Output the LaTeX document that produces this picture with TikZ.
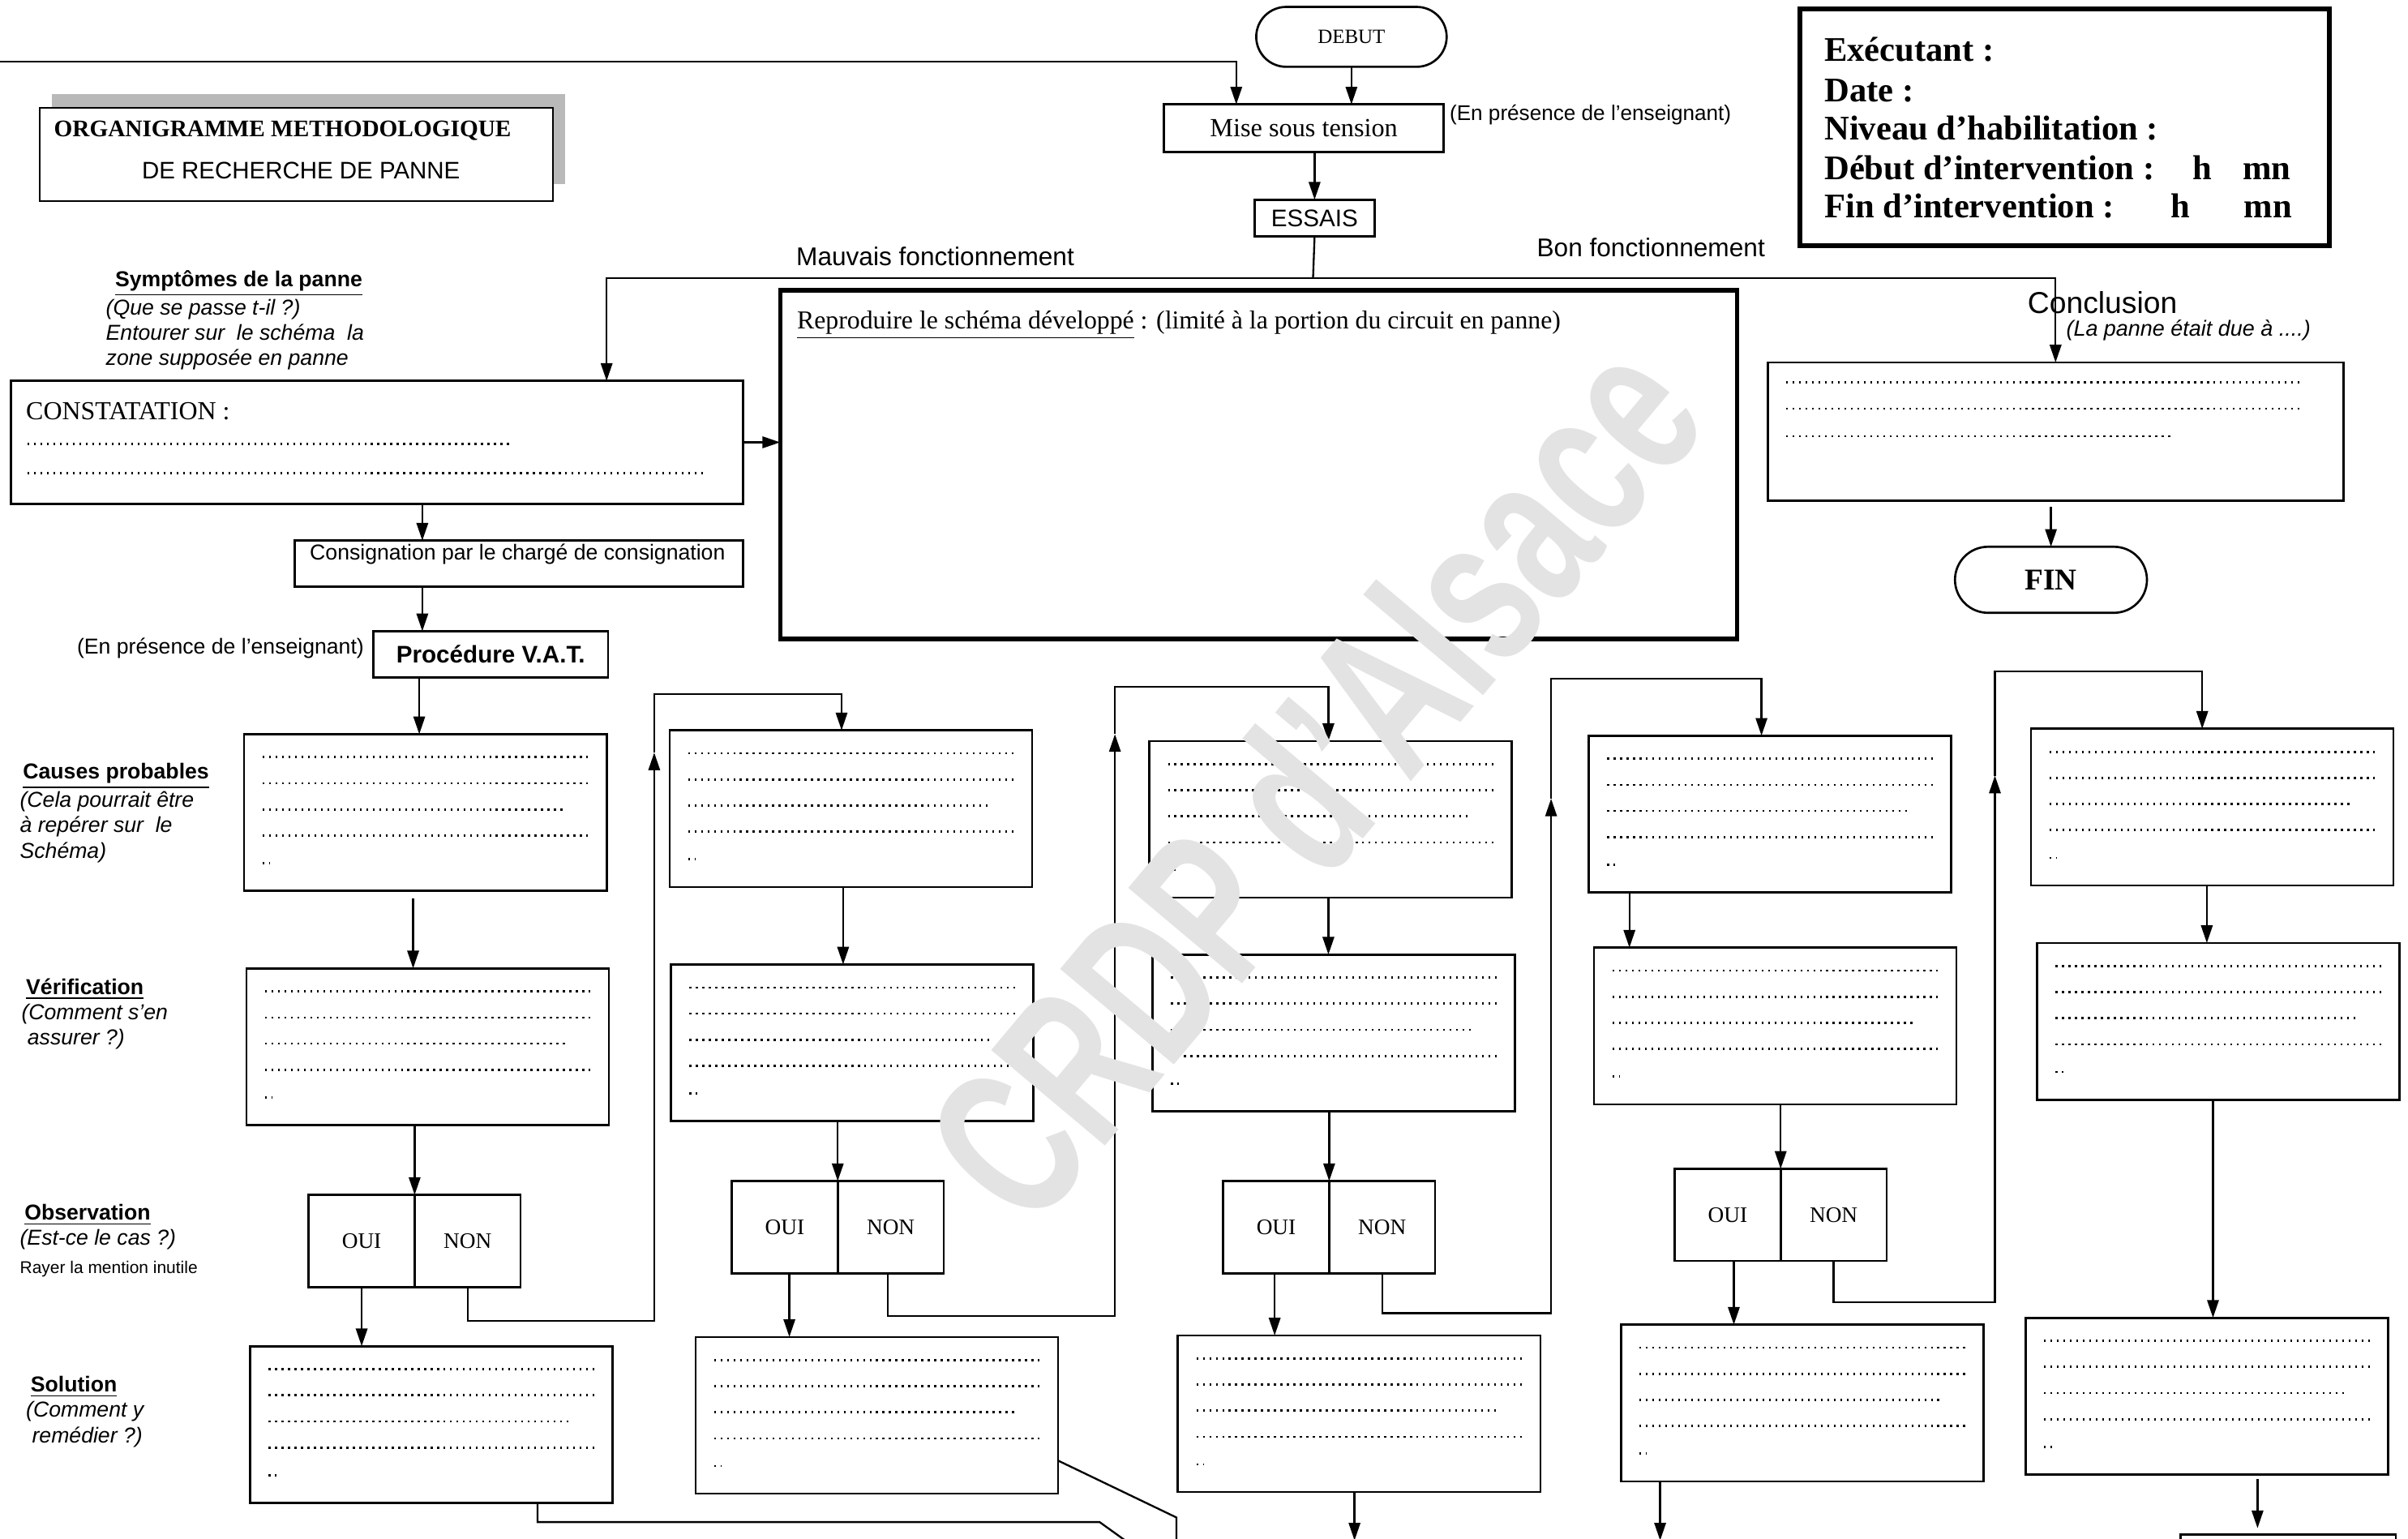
\documentclass[tikz,border=0pt]{standalone}
\usepackage{fontspec}
\setmainfont{Liberation Serif}
\setsansfont{Liberation Sans}
\usetikzlibrary{shapes.misc}
\usetikzlibrary{arrows.meta}
\usetikzlibrary{positioning}
\usetikzlibrary{calc}

\begin{document}
\begin{tikzpicture}[x=0.2mm,y=-0.2mm,
>={Triangle[length=2.3mm,width=1.5mm]},
every node/.style={inner sep=0pt,outer sep=0pt},
box/.style={draw,line width=0.8pt,minimum width=47.2mm,minimum height=20.4mm},
yn/.style={draw,line width=0.8pt,minimum width=13.8mm,minimum height=12mm,font=\fontsize{8.2}{10}\selectfont},
link/.style={line width=0.7pt},
leader/.style={line width=0.8pt,dash pattern=on 0.7pt off 1.7pt},
sf/.style={font=\sffamily\fontsize{#1}{#1}\selectfont},
side/.style={align=left,anchor=north west,font=\sffamily\fontsize{8}{9.4}\selectfont},
infotxt/.style={anchor=base west,font=\bfseries\fontsize{12.8}{15}\selectfont}]
\path[use as bounding box,fill=white] (0,0) rectangle (1568,1002);

\node[draw,rounded rectangle,line width=0.8pt,minimum width=24.8mm,minimum height=7.8mm,font=\fontsize{7.5}{9}\selectfont] (debut) at (880,24) {DEBUT};
\node[draw,line width=0.8pt,minimum width=36.4mm,minimum height=6.2mm,font=\fontsize{9.7}{11}\selectfont] (mise) at (849,83.5) {Mise sous tension};
\node[sf=7.85,right=0.8mm of mise,yshift=1.7mm] (pres1) {(En présence de l'enseignant)};
\node[draw,line width=0.8pt,minimum width=15.6mm,minimum height=4.8mm,sf=8.9] (essais) at (856,142) {ESSAIS};
\coordinate (split) at (855,181);
\coordinate (ret) at (0,40);
\node[sf=9.5] (mauvais) at (609,167) {Mauvais fonctionnement};
\node[sf=9.5] (bon) at (1075,161) {Bon fonctionnement};

\node[fill=gray!55,minimum width=66.8mm,minimum height=11.8mm] (titleshadow) at (201,90.5) {};
\node[draw,fill=white,line width=0.6pt,minimum width=66.8mm,minimum height=12.2mm] (title) at (193,100.5) {};
\node[font=\bfseries\fontsize{8.8}{10}\selectfont] (title1) at (184,85) {ORGANIGRAMME METHODOLOGIQUE};
\node[sf=8.85] (title2) at (196,111) {DE RECHERCHE DE PANNE};

\node[draw,line width=1.8pt,minimum width=69mm,minimum height=30.8mm] (info) at (1344.5,83) {};
\node[infotxt] (exec) at (1188,40) {Exécutant :};
\node[infotxt] (date) at (1188,66) {Date :};
\node[infotxt] (niv) at (1188,91) {Niveau d’habilitation :};
\node[infotxt] (deb) at (1188,117) {Début d’intervention :\hspace{5mm}h\hspace{4mm}mn};
\node[infotxt] (fini) at (1188,142) {Fin d’intervention :\hspace{7.4mm}h\hspace{7mm}mn};

\node[side] (sympt) at (69,176) {\hspace*{1.2mm}\underline{\textbf{Symptômes de la panne}}\\\textit{(Que se passe t-il ?)}\\\textit{Entourer sur\ \ le schéma\ \ la}\\\textit{zone supposée en panne}};
\node[draw,line width=0.8pt,minimum width=95.4mm,minimum height=16mm] (constat) at (245.5,288) {};
\node[anchor=base west,font=\fontsize{9.6}{11}\selectfont] (constxt) at (17,273) {CONSTATATION :};
\draw[leader] (18,289) -- (332,289);
\draw[leader] (18,308) -- (458,308);

\node[draw,line width=1.6pt,minimum width=124.6mm,minimum height=45.4mm] (reprod) at (819.5,302.5) {};
\node[anchor=base west,font=\fontsize{9.55}{11}\selectfont] (reprotxt) at (519,214) {\underline{Reproduire le schéma développé} : (limité à la portion du circuit en panne)};

\node[sf=11.2] (conclu) at (1369,197) {Conclusion};
\node[font=\sffamily\itshape\fontsize{8.1}{9}\selectfont] (dueto) at (1425,215) {(La panne était due à ....)};
\node[draw,line width=0.8pt,minimum width=75mm,minimum height=18mm] (concl) at (1338.5,281) {};
\draw[leader] (1163,249) -- (1500,249);
\draw[leader] (1163,266) -- (1500,266);
\draw[leader] (1163,284) -- (1415,284);
\node[draw,rounded rectangle,line width=0.8pt,minimum width=25mm,minimum height=8.6mm,font=\bfseries\fontsize{11.2}{13}\selectfont] (fin) at (1335.5,377.5) {FIN};

\node[draw,line width=0.8pt,minimum width=58.4mm,minimum height=6mm] (consig) at (338,367) {};
\node[sf=8] (consigtxt) at (337,361) {Consignation par le chargé de consignation};
\node[draw,line width=0.8pt,minimum width=30.6mm,minimum height=6mm,font=\sffamily\bfseries\fontsize{8.9}{10}\selectfont] (vat) at (319.5,426) {Procédure V.A.T.};
\node[sf=8,left=1.2mm of vat,yshift=0.8mm] (pres2) {(En présence de l'enseignant)};

\node[side] (causes) at (13,497) {\hspace*{0.4mm}\underline{\textbf{Causes probables}}\\\textit{(Cela pourrait être}\\\textit{à repérer sur\ \ le}\\\textit{Schéma)}};
\node[side] (verif) at (14,637) {\hspace*{0.6mm}\underline{\textbf{Vérification}}\\\textit{(Comment s'en}\\\textit{\ assurer ?)}};
\node[side] (observ) at (13,784) {\hspace*{0.6mm}\underline{\textbf{Observation}}\\\textit{(Est-ce le cas ?)}\\[0.4mm]{\fontsize{6.3}{7.5}\selectfont Rayer la mention inutile}};
\node[side] (solut) at (17,896) {\hspace*{0.6mm}\underline{\textbf{Solution}}\\\textit{(Comment y}\\\textit{\ remédier ?)}};

\node[box] (c1) at (277,529) {};
\node[box] (v1) at (278.5,681.5) {};
\node[yn] (o1) at (235.5,808) {OUI};
\node[yn,right=0pt of o1] (n1) {NON};
\node[box] (s1) at (281,927.5) {};
\node[box] (c2) at (554,526.5) {};
\node[box] (v2) at (555,679) {};
\node[yn] (o2) at (511,799) {OUI};
\node[yn,right=0pt of o2] (n2) {NON};
\node[box] (s2) at (571,921.5) {};
\node[box] (c3) at (866.5,533.5) {};
\node[box] (v3) at (868.5,672.5) {};
\node[yn] (o3) at (831,799) {OUI};
\node[yn,right=0pt of o3] (n3) {NON};
\node[box] (s3) at (885,920.5) {};
\node[box] (c4) at (1152.5,530) {};
\node[box] (v4) at (1156,668) {};
\node[yn] (o4) at (1125,791) {OUI};
\node[yn,right=0pt of o4] (n4) {NON};
\node[box] (s4) at (1173.5,913.5) {};
\node[box] (c5) at (1440.5,525.5) {};
\node[box] (v5) at (1444.5,665) {};
\node[box] (s5) at (1437,909) {};
\node[draw,line width=0.8pt,minimum width=28mm,minimum height=8mm] (nxt) at (1490,1019) {};

\foreach \b in {c1,v1,s1,c2,v2,s2,c3,v3,s3,c4,v4,s4,c5,v5,s5} {
  \foreach \r/\e in {15/12,32/12,49/26,66/12}
    \draw[leader] ($(\b.north west)+(12,\r)$) -- ($(\b.north east)+(-\e,\r)$);
  \draw[leader] ($(\b.north west)+(12,84)$) -- +(5,0);
}

\draw[link,->] (ret) -| (mise.north -| 805,0);
\draw[link,->] (debut.south) -- (debut.south |- mise.north);
\draw[link,->] (mise.south -| essais.north) -- (essais.north);
\draw[link] (essais.south) -- (split);
\draw[link,->] (split) -| (constat.north -| 395,0);
\draw[link,->] (split) -| (concl.north);
\draw[link,->] (constat.east) -- (constat.east -| reprod.west);
\draw[link,->] (constat.south -| 275,0) -- (consig.north -| 275,0);
\draw[link,->] (consig.south -| 275,0) -- (vat.north -| 275,0);
\draw[link,->] (vat.south -| 273,0) -- (c1.north -| 273,0);
\draw[link,->,shorten <=0.8mm] (concl.south -| fin.north) -- (fin.north);

\coordinate (b1) at (426,860);
\coordinate (u1) at (426,490);
\coordinate (t1) at (426,452);
\coordinate (k1) at (716,991);
\coordinate (e1) at (748,1014);
\draw[link,->,shorten <=1mm] (c1.south -| 269,0) -- (v1.north -| 269,0);
\draw[link,->] (v1.south -| o1.north east) -- (o1.north east);
\draw[link,->] (o1.south) -- (o1.south |- s1.north);
\draw[link,->] (n1.south) |- (b1) -- (u1);
\draw[link,->] (u1) -- (t1) -| (c2.north -| 548,0);
\draw[link,->] (s1.south -| 350,0) |- (k1) -- (e1);

\coordinate (b2) at (726,857);
\coordinate (u2) at (726,478);
\coordinate (t2) at (726,447);
\coordinate (k2) at (766,988);
\coordinate (e2) at (766,1014);
\draw[link,->] (c2.south -| 549,0) -- (v2.north -| 549,0);
\draw[link,->] (v2.south -| o2.north east) -- (o2.north east);
\draw[link,->] (o2.south -| 514,0) -- (s2.north -| 514,0);
\draw[link,->] (n2.south -| 578,0) |- (b2) -- (u2);
\draw[link,->] (u2) -- (t2) -| (c3.north -| 865,0);
\draw[link,->] (s2.east |- 0,951) -- (k2) -- (e2);

\coordinate (b3) at (1010,855);
\coordinate (u3) at (1010,520);
\coordinate (t3) at (1010,442);
\coordinate (e3) at (882,1003);
\draw[link,->] (c3.south -| 865,0) -- (v3.north -| 865,0);
\draw[link,->] (v3.south -| o3.north east) -- (o3.north east);
\draw[link,->] (o3.south -| 830,0) -- (s3.north -| 830,0);
\draw[link,->] (n3.south) |- (b3) -- (u3);
\draw[link,->] (u3) -- (t3) -| (c4.north -| 1147,0);
\draw[link,->] (s3.south -| 882,0) -- (e3);

\coordinate (b4) at (1299,848);
\coordinate (u4) at (1299,505);
\coordinate (t4) at (1299,437);
\coordinate (e4) at (1081,1003);
\draw[link,->] (c4.south -| 1061,0) -- (v4.north -| 1061,0);
\draw[link,->] (v4.south -| o4.north east) -- (o4.north east);
\draw[link,->] (o4.south -| 1129,0) -- (s4.north -| 1129,0);
\draw[link,->] (n4.south) |- (b4) -- (u4);
\draw[link,->] (u4) -- (t4) -| (c5.north -| 1434,0);
\draw[link,->] (s4.south -| 1081,0) -- (e4);

\draw[link,->] (c5.south -| 1437,0) -- (v5.north -| 1437,0);
\draw[link,->] (v5.south -| 1441,0) -- (s5.north -| 1441,0);
\draw[link,->,shorten <=0.6mm,shorten >=0.8mm] (s5.south -| 1470,0) -- (nxt.north -| 1470,0);

\node[font=\sffamily\bfseries\fontsize{80}{80}\selectfont,text=gray!22,rotate=50] (crdp) at (855,507) {\scalebox{0.68}[1]{CRDP d'Alsace}};
\end{tikzpicture}
\end{document}
